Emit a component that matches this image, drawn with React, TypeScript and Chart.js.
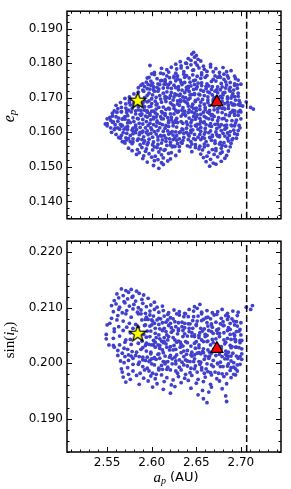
import React, { useEffect, useRef } from "react";
import { Chart, registerables } from "chart.js";
Chart.register(...registerables);

// ---------- data ----------
const xRange = [2.505, 2.745];
const topRange = [0.135, 0.195];
const bottomRange = [0.184, 0.222];
const xTickValues = [2.55, 2.6, 2.65, 2.7];
const topTickValues = [0.14, 0.15, 0.16, 0.17, 0.18, 0.19];
const bottomTickValues = [0.19, 0.2, 0.21, 0.22];
const stabilityLimit = 2.7065;
const starTop = [2.5843, 0.1691];
const triangleTop = [2.6731, 0.1687];
const starBottom = [2.5843, 0.2053];
const triangleBottom = [2.6731, 0.2026];

// (a_p, e_p) of the clones
const topPoints: number[][] = [
[2.647,.1831],[2.645,.1826],[2.650,.1822],[2.641,.1813],[2.648,.1817],[2.652,.1811],
[2.632,.1804],[2.638,.1800],[2.644,.1808],[2.649,.1801],[2.655,.1806],
[2.598,.1793],[2.627,.1797],[2.633,.1792],[2.639,.1799],[2.644,.1795],[2.651,.1794],[2.658,.1791],[2.666,.1796],
[2.611,.1785],[2.617,.1781],[2.622,.1788],[2.628,.1783],[2.633,.1786],[2.640,.1787],[2.647,.1780],[2.653,.1786],[2.659,.1782],[2.666,.1789],[2.672,.1784],[2.680,.1787],
[2.603,.1773],[2.610,.1771],[2.619,.1774],[2.627,.1771],[2.636,.1775],[2.646,.1779],[2.656,.1772],[2.662,.1776],[2.669,.1775],[2.676,.1773],[2.684,.1775],[2.689,.1778],
[2.600,.1769],[2.603,.1767],[2.613,.1769],[2.617,.1763],[2.625,.1762],[2.629,.1763],[2.636,.1768],[2.639,.1764],[2.646,.1766],[2.651,.1762],[2.656,.1766],[2.662,.1764],[2.671,.1763],[2.676,.1763],[2.681,.1768],[2.685,.1763],[2.693,.1762],
[2.595,.1757],[2.597,.1759],[2.606,.1755],[2.611,.1750],[2.615,.1752],[2.620,.1758],[2.625,.1758],[2.629,.1754],[2.632,.1751],[2.637,.1759],[2.642,.1757],[2.649,.1751],[2.655,.1756],[2.660,.1759],[2.669,.1753],[2.674,.1759],[2.677,.1759],[2.681,.1753],[2.686,.1757],[2.694,.1755],[2.697,.1751],
[2.590,.1740],[2.594,.1745],[2.599,.1748],[2.601,.1742],[2.607,.1740],[2.610,.1749],[2.615,.1747],[2.621,.1744],[2.627,.1749],[2.633,.1744],[2.637,.1744],[2.643,.1745],[2.647,.1749],[2.652,.1742],[2.656,.1743],[2.662,.1740],[2.667,.1747],[2.672,.1748],[2.678,.1741],[2.683,.1746],[2.688,.1744],[2.693,.1740],
[2.588,.1736],[2.592,.1732],[2.596,.1738],[2.599,.1736],[2.602,.1732],[2.606,.1730],[2.609,.1738],[2.614,.1739],[2.616,.1739],[2.619,.1738],[2.625,.1736],[2.630,.1732],[2.634,.1738],[2.639,.1730],[2.641,.1733],[2.644,.1734],[2.648,.1738],[2.651,.1732],[2.656,.1735],[2.661,.1733],[2.664,.1734],[2.668,.1732],[2.674,.1731],[2.679,.1731],[2.684,.1737],[2.688,.1730],[2.693,.1736],[2.696,.1737],[2.700,.1739],
[2.585,.1729],[2.590,.1722],[2.595,.1726],[2.598,.1725],[2.602,.1723],[2.608,.1725],[2.613,.1728],[2.618,.1729],[2.622,.1727],[2.627,.1729],[2.630,.1723],[2.634,.1722],[2.639,.1723],[2.641,.1728],[2.647,.1724],[2.650,.1726],[2.655,.1722],[2.661,.1726],[2.667,.1724],[2.673,.1723],[2.677,.1723],[2.683,.1728],[2.687,.1723],[2.692,.1722],[2.696,.1727],
[2.580,.1711],[2.585,.1716],[2.591,.1719],[2.597,.1713],[2.603,.1719],[2.607,.1719],[2.613,.1713],[2.617,.1717],[2.622,.1715],[2.626,.1711],[2.632,.1710],[2.637,.1715],[2.642,.1718],[2.648,.1712],[2.653,.1710],[2.658,.1719],[2.663,.1717],[2.665,.1714],[2.671,.1719],[2.674,.1714],[2.680,.1714],[2.682,.1715],[2.688,.1719],[2.691,.1712],[2.697,.1713],
[2.575,.1702],[2.584,.1703],[2.592,.1700],[2.595,.1707],[2.601,.1708],[2.605,.1701],[2.609,.1706],[2.615,.1704],[2.617,.1700],[2.621,.1706],[2.625,.1702],[2.628,.1708],[2.631,.1706],[2.635,.1702],[2.638,.1700],[2.643,.1708],[2.645,.1709],[2.648,.1709],[2.654,.1708],[2.659,.1706],[2.663,.1702],[2.668,.1708],[2.670,.1700],[2.673,.1703],[2.677,.1704],[2.680,.1708],[2.685,.1702],[2.690,.1705],[2.693,.1703],[2.697,.1704],
[2.570,.1698],[2.575,.1692],[2.577,.1695],[2.580,.1693],[2.584,.1694],[2.587,.1692],[2.592,.1691],[2.597,.1691],[2.600,.1697],[2.604,.1690],[2.610,.1696],[2.615,.1697],[2.620,.1699],[2.624,.1693],[2.629,.1691],[2.632,.1694],[2.636,.1691],[2.641,.1695],[2.643,.1699],[2.649,.1692],[2.652,.1696],[2.657,.1695],[2.663,.1693],[2.669,.1695],[2.675,.1698],[2.679,.1699],[2.685,.1697],[2.689,.1699],[2.694,.1693],[2.698,.1692],
[2.565,.1686],[2.571,.1682],[2.575,.1686],[2.580,.1684],[2.584,.1683],[2.590,.1683],[2.595,.1688],[2.600,.1683],[2.606,.1682],[2.611,.1687],[2.616,.1689],[2.621,.1685],[2.623,.1680],[2.629,.1682],[2.632,.1688],[2.638,.1688],[2.640,.1684],[2.646,.1681],[2.649,.1689],[2.655,.1687],[2.659,.1681],[2.663,.1686],[2.669,.1689],[2.671,.1683],[2.675,.1689],[2.679,.1689],[2.682,.1683],[2.685,.1687],[2.689,.1685],[2.692,.1681],[2.697,.1680],[2.699,.1685],
[2.560,.1678],[2.566,.1672],[2.571,.1670],[2.576,.1679],[2.580,.1677],[2.585,.1674],[2.588,.1679],[2.592,.1674],[2.597,.1674],[2.599,.1675],[2.605,.1679],[2.608,.1672],[2.613,.1673],[2.619,.1670],[2.625,.1677],[2.631,.1678],[2.635,.1671],[2.641,.1676],[2.645,.1674],[2.650,.1670],[2.654,.1676],[2.660,.1672],[2.665,.1678],[2.670,.1676],[2.676,.1672],[2.681,.1670],[2.686,.1678],[2.691,.1679],[2.693,.1679],[2.699,.1678],[2.702,.1676],
[2.558,.1662],[2.562,.1668],[2.566,.1660],[2.572,.1663],[2.574,.1664],[2.578,.1668],[2.582,.1662],[2.585,.1665],[2.588,.1663],[2.592,.1664],[2.595,.1662],[2.600,.1661],[2.602,.1661],[2.605,.1667],[2.611,.1660],[2.616,.1666],[2.620,.1667],[2.625,.1669],[2.627,.1663],[2.630,.1661],[2.634,.1664],[2.637,.1661],[2.642,.1665],[2.647,.1669],[2.650,.1662],[2.654,.1666],[2.660,.1665],[2.665,.1663],[2.670,.1665],[2.674,.1668],[2.679,.1669],[2.682,.1667],[2.686,.1669],[2.691,.1663],[2.693,.1662],[2.699,.1663],
[2.556,.1655],[2.561,.1658],[2.566,.1659],[2.572,.1657],[2.577,.1659],[2.582,.1653],[2.587,.1652],[2.589,.1653],[2.595,.1658],[2.598,.1654],[2.604,.1656],[2.606,.1652],[2.612,.1656],[2.615,.1654],[2.621,.1653],[2.625,.1653],[2.629,.1658],[2.635,.1653],[2.637,.1652],[2.641,.1657],[2.645,.1659],[2.648,.1655],[2.651,.1650],[2.655,.1652],[2.658,.1658],[2.663,.1658],[2.665,.1654],[2.668,.1651],[2.674,.1659],[2.679,.1657],[2.683,.1651],[2.688,.1656],[2.690,.1659],[2.693,.1653],[2.697,.1659],[2.700,.1659],
[2.553,.1643],[2.556,.1647],[2.560,.1645],[2.563,.1641],[2.568,.1640],[2.570,.1645],[2.573,.1648],[2.579,.1642],[2.584,.1640],[2.588,.1649],[2.593,.1647],[2.595,.1644],[2.598,.1649],[2.602,.1644],[2.605,.1644],[2.610,.1645],[2.615,.1649],[2.618,.1642],[2.622,.1643],[2.628,.1640],[2.633,.1647],[2.638,.1648],[2.642,.1641],[2.647,.1646],[2.650,.1644],[2.654,.1640],[2.659,.1646],[2.661,.1642],[2.667,.1648],[2.670,.1646],[2.675,.1642],[2.681,.1640],[2.687,.1648],[2.693,.1649],[2.697,.1649],
[2.550,.1639],[2.554,.1635],[2.557,.1630],[2.562,.1632],[2.567,.1638],[2.570,.1638],[2.574,.1634],[2.580,.1631],[2.585,.1639],[2.590,.1637],[2.594,.1631],[2.599,.1636],[2.602,.1639],[2.606,.1633],[2.611,.1639],[2.613,.1639],[2.619,.1633],[2.622,.1637],[2.627,.1635],[2.633,.1631],[2.639,.1630],[2.645,.1635],[2.649,.1638],[2.655,.1632],[2.659,.1630],[2.664,.1639],[2.668,.1637],[2.674,.1634],[2.679,.1639],[2.684,.1634],[2.690,.1634],[2.695,.1635],[2.700,.1639],
[2.548,.1624],[2.550,.1625],[2.556,.1629],[2.559,.1622],[2.565,.1623],[2.567,.1620],[2.573,.1627],[2.576,.1628],[2.582,.1621],[2.586,.1626],[2.590,.1624],[2.596,.1620],[2.598,.1626],[2.602,.1622],[2.606,.1628],[2.609,.1626],[2.612,.1622],[2.616,.1620],[2.619,.1628],[2.624,.1629],[2.626,.1629],[2.629,.1628],[2.635,.1626],[2.640,.1622],[2.644,.1628],[2.649,.1620],[2.651,.1623],[2.654,.1624],[2.658,.1628],[2.661,.1622],[2.666,.1625],[2.671,.1623],[2.674,.1624],[2.678,.1622],[2.684,.1621],[2.689,.1621],[2.694,.1627],[2.698,.1620],
[2.550,.1619],[2.554,.1613],[2.559,.1612],[2.562,.1613],[2.566,.1618],[2.571,.1614],[2.573,.1616],[2.579,.1612],[2.582,.1616],[2.587,.1614],[2.593,.1613],[2.599,.1613],[2.605,.1618],[2.609,.1613],[2.615,.1612],[2.619,.1617],[2.624,.1619],[2.628,.1615],[2.634,.1610],[2.639,.1612],[2.644,.1618],[2.650,.1618],[2.655,.1614],[2.660,.1611],[2.665,.1619],[2.667,.1617],[2.673,.1611],[2.676,.1616],[2.682,.1619],[2.684,.1613],[2.690,.1619],[2.693,.1619],[2.699,.1613],
[2.555,.1600],[2.558,.1608],[2.564,.1609],[2.569,.1609],[2.573,.1608],[2.578,.1606],[2.580,.1602],[2.583,.1608],[2.587,.1600],[2.590,.1603],[2.595,.1604],[2.600,.1608],[2.603,.1602],[2.607,.1605],[2.613,.1603],[2.618,.1604],[2.623,.1602],[2.627,.1601],[2.632,.1601],[2.635,.1607],[2.639,.1600],[2.644,.1606],[2.646,.1607],[2.652,.1609],[2.655,.1603],[2.660,.1601],[2.666,.1604],[2.672,.1601],[2.678,.1605],[2.682,.1609],[2.688,.1602],[2.692,.1606],[2.697,.1605],
[2.560,.1594],[2.566,.1591],[2.568,.1599],[2.572,.1597],[2.576,.1591],[2.579,.1596],[2.582,.1599],[2.586,.1593],[2.589,.1599],[2.594,.1599],[2.596,.1593],[2.599,.1597],[2.605,.1595],[2.610,.1591],[2.614,.1590],[2.619,.1595],[2.621,.1598],[2.624,.1592],[2.628,.1590],[2.631,.1599],[2.636,.1597],[2.641,.1594],[2.644,.1599],[2.648,.1594],[2.654,.1594],[2.659,.1595],[2.664,.1599],[2.668,.1592],[2.673,.1593],[2.676,.1590],[2.680,.1597],[2.685,.1598],[2.687,.1591],[2.693,.1596],[2.696,.1594],
[2.563,.1585],[2.565,.1583],[2.571,.1584],[2.574,.1582],[2.579,.1581],[2.585,.1581],[2.591,.1587],[2.597,.1580],[2.601,.1586],[2.607,.1587],[2.611,.1589],[2.616,.1583],[2.620,.1581],[2.626,.1584],[2.631,.1581],[2.636,.1585],[2.642,.1589],[2.647,.1582],[2.652,.1586],[2.657,.1585],[2.659,.1583],[2.665,.1585],[2.668,.1588],[2.674,.1589],[2.676,.1587],[2.682,.1589],[2.685,.1583],[2.691,.1582],[2.695,.1583],
[2.567,.1573],[2.569,.1573],[2.572,.1578],[2.576,.1573],[2.579,.1572],[2.584,.1577],[2.589,.1579],[2.592,.1575],[2.596,.1570],[2.602,.1572],[2.607,.1578],[2.612,.1578],[2.616,.1574],[2.621,.1571],[2.624,.1579],[2.628,.1577],[2.633,.1571],[2.635,.1576],[2.641,.1579],[2.644,.1573],[2.649,.1579],[2.655,.1579],[2.661,.1573],[2.667,.1577],[2.671,.1575],[2.677,.1571],[2.681,.1570],[2.686,.1575],[2.690,.1578],
[2.570,.1569],[2.578,.1567],[2.587,.1564],[2.591,.1569],[2.595,.1564],[2.601,.1564],[2.607,.1565],[2.611,.1569],[2.617,.1562],[2.621,.1563],[2.624,.1560],[2.629,.1567],[2.634,.1568],[2.640,.1561],[2.645,.1566],[2.649,.1564],[2.654,.1560],[2.659,.1566],[2.663,.1562],[2.671,.1568],[2.676,.1566],[2.679,.1562],[2.683,.1560],[2.689,.1568],
[2.574,.1554],[2.584,.1550],[2.589,.1556],[2.594,.1552],[2.603,.1558],[2.606,.1556],[2.610,.1552],[2.615,.1550],[2.623,.1558],[2.626,.1559],[2.631,.1559],[2.643,.1558],[2.649,.1556],[2.653,.1552],[2.659,.1558],[2.668,.1550],[2.672,.1553],[2.678,.1554],[2.688,.1558],
[2.578,.1547],[2.586,.1541],[2.593,.1545],[2.601,.1549],[2.608,.1543],[2.614,.1548],[2.622,.1541],[2.631,.1546],[2.645,.1544],[2.657,.1549],[2.664,.1542],[2.672,.1547],[2.679,.1543],[2.686,.1546],
[2.583,.1536],[2.591,.1532],[2.597,.1538],[2.604,.1531],[2.611,.1535],[2.619,.1539],[2.627,.1533],[2.655,.1537],[2.662,.1531],[2.670,.1536],[2.677,.1539],[2.684,.1533],
[2.590,.1524],[2.600,.1528],[2.607,.1521],[2.613,.1526],[2.621,.1523],[2.658,.1527],[2.666,.1522],[2.674,.1529],[2.682,.1525],
[2.595,.1514],[2.603,.1518],[2.611,.1512],[2.618,.1517],[2.661,.1515],[2.669,.1511],[2.678,.1516],
[2.602,.1504],[2.613,.1507],[2.665,.1502],[2.672,.1508],[2.608,.1496],
[2.711,.1672],[2.714,.1667],[2.706,.1688],
];

// (a_p, sin i_p) of the clones
const bottomPoints: number[][] = [
[2.566,.2134],[2.571,.2131],[2.577,.2133],[2.583,.2130],
[2.561,.2125],[2.568,.2122],[2.574,.2128],[2.579,.2121],[2.586,.2126],[2.591,.2123],
[2.558,.2113],[2.563,.2118],[2.569,.2111],[2.573,.2116],[2.578,.2119],[2.582,.2112],[2.589,.2115],[2.596,.2117],[2.603,.2110],
[2.555,.2104],[2.560,.2107],[2.564,.2101],[2.570,.2109],[2.575,.2103],[2.580,.2106],[2.585,.2100],[2.590,.2108],[2.594,.2102],[2.599,.2105],[2.606,.2101],[2.612,.2103],[2.648,.2102],[2.654,.2106],[2.706,.2101],[2.711,.2097],[2.713,.2104],
[2.557,.2093],[2.563,.2097],[2.567,.2091],[2.572,.2095],[2.579,.2098],[2.584,.2092],[2.588,.2096],[2.593,.2090],[2.598,.2094],[2.603,.2097],[2.608,.2092],[2.613,.2095],[2.619,.2091],[2.625,.2096],[2.631,.2093],[2.637,.2090],[2.642,.2097],[2.647,.2094],[2.651,.2099],[2.656,.2092],[2.662,.2095],[2.668,.2091],[2.674,.2093],[2.679,.2097],[2.685,.2090],[2.691,.2094],[2.697,.2092],
[2.555,.2081],[2.562,.2086],[2.571,.2089],[2.577,.2083],[2.585,.2089],[2.588,.2089],[2.594,.2083],[2.598,.2087],[2.602,.2085],[2.608,.2081],[2.610,.2080],[2.614,.2085],[2.618,.2088],[2.621,.2082],[2.624,.2080],[2.628,.2089],[2.631,.2087],[2.636,.2084],[2.638,.2089],[2.641,.2084],[2.647,.2084],[2.652,.2085],[2.656,.2089],[2.661,.2082],[2.663,.2083],[2.666,.2080],[2.670,.2087],[2.673,.2088],[2.678,.2081],[2.683,.2086],[2.686,.2084],[2.690,.2080],[2.696,.2086],
[2.553,.2072],[2.561,.2078],[2.568,.2076],[2.575,.2072],[2.582,.2070],[2.589,.2078],[2.593,.2079],[2.596,.2079],[2.600,.2078],[2.601,.2076],[2.603,.2072],[2.606,.2078],[2.608,.2070],[2.612,.2073],[2.616,.2074],[2.618,.2078],[2.621,.2072],[2.626,.2075],[2.630,.2073],[2.634,.2074],[2.637,.2072],[2.641,.2071],[2.643,.2071],[2.646,.2077],[2.650,.2070],[2.651,.2076],[2.656,.2077],[2.658,.2079],[2.662,.2073],[2.667,.2071],[2.672,.2074],[2.677,.2071],[2.680,.2075],[2.685,.2079],[2.688,.2072],[2.692,.2076],[2.695,.2075],[2.700,.2073],
[2.550,.2069],[2.558,.2062],[2.563,.2066],[2.572,.2065],[2.579,.2063],[2.585,.2065],[2.592,.2068],[2.593,.2069],[2.598,.2067],[2.600,.2069],[2.604,.2063],[2.609,.2062],[2.614,.2063],[2.619,.2068],[2.622,.2064],[2.627,.2066],[2.630,.2062],[2.634,.2066],[2.637,.2064],[2.642,.2063],[2.646,.2063],[2.650,.2068],[2.655,.2063],[2.659,.2062],[2.663,.2067],[2.667,.2069],[2.668,.2065],[2.673,.2060],[2.675,.2062],[2.680,.2068],[2.681,.2068],[2.686,.2064],[2.688,.2061],[2.693,.2069],[2.696,.2067],[2.699,.2061],
[2.549,.2052],[2.558,.2057],[2.568,.2059],[2.576,.2055],[2.586,.2050],[2.591,.2052],[2.595,.2058],[2.599,.2058],[2.604,.2054],[2.608,.2051],[2.612,.2059],[2.616,.2057],[2.617,.2051],[2.622,.2056],[2.624,.2059],[2.629,.2053],[2.630,.2059],[2.635,.2059],[2.637,.2053],[2.642,.2057],[2.645,.2055],[2.648,.2051],[2.653,.2050],[2.654,.2055],[2.657,.2058],[2.660,.2052],[2.662,.2050],[2.664,.2059],[2.667,.2057],[2.669,.2054],[2.673,.2059],[2.674,.2054],[2.676,.2054],[2.681,.2055],[2.685,.2059],[2.688,.2052],[2.692,.2053],[2.693,.2050],[2.695,.2057],[2.698,.2058],[2.700,.2051],
[2.549,.2044],[2.557,.2045],[2.564,.2049],[2.571,.2042],[2.576,.2043],[2.589,.2040],[2.594,.2047],[2.598,.2048],[2.602,.2041],[2.605,.2046],[2.609,.2044],[2.611,.2040],[2.614,.2046],[2.618,.2042],[2.619,.2048],[2.624,.2046],[2.626,.2042],[2.630,.2040],[2.635,.2048],[2.640,.2049],[2.645,.2049],[2.648,.2048],[2.653,.2046],[2.656,.2042],[2.660,.2048],[2.663,.2040],[2.668,.2043],[2.672,.2044],[2.676,.2048],[2.681,.2042],[2.685,.2045],[2.689,.2043],[2.693,.2044],[2.694,.2042],[2.699,.2041],[2.701,.2041],
[2.552,.2033],[2.557,.2032],[2.564,.2033],[2.570,.2038],[2.577,.2034],[2.585,.2036],[2.593,.2032],[2.594,.2036],[2.597,.2034],[2.600,.2033],[2.602,.2033],[2.604,.2038],[2.607,.2033],[2.609,.2032],[2.613,.2037],[2.614,.2039],[2.616,.2035],[2.621,.2030],[2.625,.2032],[2.628,.2038],[2.632,.2038],[2.633,.2034],[2.635,.2031],[2.638,.2039],[2.640,.2037],[2.644,.2031],[2.648,.2036],[2.650,.2039],[2.653,.2033],[2.658,.2039],[2.662,.2039],[2.666,.2033],[2.669,.2037],[2.673,.2035],[2.675,.2031],[2.678,.2030],[2.682,.2035],[2.683,.2038],[2.688,.2032],[2.690,.2030],[2.694,.2039],[2.699,.2037],
[2.558,.2029],[2.562,.2023],[2.569,.2027],[2.573,.2025],[2.578,.2021],[2.583,.2020],[2.588,.2025],[2.590,.2028],[2.594,.2022],[2.599,.2020],[2.604,.2029],[2.609,.2027],[2.612,.2024],[2.617,.2029],[2.620,.2024],[2.624,.2024],[2.627,.2025],[2.632,.2029],[2.636,.2022],[2.640,.2023],[2.645,.2020],[2.649,.2027],[2.653,.2028],[2.657,.2021],[2.658,.2026],[2.663,.2024],[2.665,.2020],[2.670,.2026],[2.671,.2022],[2.676,.2028],[2.678,.2026],[2.683,.2022],[2.686,.2020],[2.689,.2028],[2.694,.2029],[2.695,.2029],[2.698,.2028],[2.701,.2026],
[2.562,.2014],[2.567,.2018],[2.570,.2012],[2.574,.2015],[2.577,.2013],[2.582,.2014],[2.586,.2012],[2.590,.2011],[2.595,.2011],[2.599,.2017],[2.603,.2010],[2.607,.2016],[2.608,.2017],[2.613,.2019],[2.615,.2013],[2.620,.2011],[2.621,.2014],[2.626,.2011],[2.628,.2015],[2.633,.2019],[2.636,.2012],[2.639,.2016],[2.644,.2015],[2.645,.2013],[2.648,.2015],[2.651,.2018],[2.653,.2019],[2.655,.2017],[2.658,.2019],[2.660,.2013],[2.664,.2012],[2.665,.2013],[2.667,.2018],[2.672,.2014],[2.676,.2016],[2.679,.2012],[2.683,.2016],[2.684,.2014],[2.686,.2013],[2.689,.2013],[2.691,.2018],[2.695,.2013],[2.699,.2012],[2.701,.2017],
[2.565,.2004],[2.569,.2001],[2.574,.2005],[2.579,.2009],[2.586,.2002],[2.590,.2006],[2.593,.2005],[2.597,.2003],[2.598,.2005],[2.600,.2008],[2.603,.2009],[2.605,.2007],[2.609,.2009],[2.613,.2003],[2.615,.2002],[2.618,.2003],[2.623,.2008],[2.627,.2004],[2.631,.2006],[2.634,.2002],[2.638,.2006],[2.640,.2004],[2.643,.2003],[2.647,.2003],[2.648,.2008],[2.653,.2003],[2.655,.2002],[2.659,.2007],[2.664,.2009],[2.669,.2005],[2.674,.2000],[2.677,.2002],[2.682,.2008],[2.685,.2008],[2.689,.2004],[2.692,.2001],[2.697,.2009],[2.701,.2007],
[2.566,.1990],[2.573,.1992],[2.579,.1998],[2.585,.1998],[2.590,.1994],[2.595,.1991],[2.600,.1999],[2.603,.1997],[2.608,.1991],[2.611,.1996],[2.615,.1999],[2.618,.1993],[2.623,.1999],[2.627,.1999],[2.631,.1993],[2.636,.1997],[2.640,.1995],[2.644,.1991],[2.648,.1990],[2.649,.1995],[2.654,.1998],[2.656,.1992],[2.661,.1990],[2.662,.1999],[2.667,.1997],[2.669,.1994],[2.674,.1999],[2.677,.1994],[2.680,.1994],[2.685,.1995],[2.686,.1999],[2.689,.1992],[2.692,.1993],[2.694,.1990],[2.696,.1997],[2.699,.1998],
[2.567,.1984],[2.574,.1980],[2.579,.1986],[2.587,.1982],[2.592,.1988],[2.597,.1986],[2.601,.1982],[2.605,.1980],[2.608,.1988],[2.612,.1989],[2.617,.1989],[2.621,.1988],[2.627,.1986],[2.629,.1982],[2.633,.1988],[2.638,.1980],[2.643,.1983],[2.651,.1984],[2.656,.1988],[2.659,.1982],[2.663,.1985],[2.666,.1983],[2.671,.1984],[2.675,.1982],[2.679,.1981],[2.684,.1981],[2.688,.1987],[2.692,.1980],[2.696,.1986],
[2.568,.1975],[2.576,.1971],[2.583,.1978],[2.591,.1973],[2.599,.1977],[2.604,.1972],[2.611,.1979],[2.617,.1974],[2.624,.1970],[2.630,.1976],[2.637,.1973],[2.645,.1978],[2.652,.1971],[2.660,.1975],[2.667,.1979],[2.673,.1972],[2.681,.1976],[2.689,.1974],[2.694,.1979],
[2.571,.1966],[2.586,.1962],[2.596,.1968],[2.606,.1963],[2.614,.1967],[2.622,.1961],[2.633,.1965],[2.641,.1969],[2.650,.1964],[2.658,.1967],[2.666,.1962],[2.676,.1968],[2.684,.1963],
[2.601,.1957],[2.613,.1953],[2.626,.1958],[2.644,.1955],[2.657,.1951],[2.667,.1957],[2.679,.1954],
[2.621,.1946],[2.652,.1943],[2.664,.1948],[2.683,.1941],
[2.658,.1936],[2.684,.1931],[2.662,.1929],
];

// ---------- styling ----------
const POINT_COLOR = "rgb(64,64,204)";
const POINT_RADIUS = 1.9;
const TICK_FONT = { family: "DejaVu Sans", size: 12 };

function makeStarImage(R: number, r: number): HTMLCanvasElement {
  const size = Math.ceil(2 * R + 4);
  const c = document.createElement("canvas");
  c.width = size;
  c.height = size;
  const ctx = c.getContext("2d")!;
  const cx = size / 2;
  const cy = size / 2;
  ctx.beginPath();
  for (let i = 0; i < 10; i++) {
    const ang = -Math.PI / 2 + (i * Math.PI) / 5;
    const rad = i % 2 === 0 ? R : r;
    const px = cx + Math.cos(ang) * rad;
    const py = cy + Math.sin(ang) * rad;
    if (i === 0) ctx.moveTo(px, py);
    else ctx.lineTo(px, py);
  }
  ctx.closePath();
  ctx.fillStyle = "#ffff00";
  ctx.fill();
  ctx.lineWidth = 1.2;
  ctx.strokeStyle = "#000";
  ctx.lineJoin = "miter";
  ctx.stroke();
  return c;
}

type Run = { t: string; font: string; dy?: number };

function drawRuns(ctx: CanvasRenderingContext2D, runs: Run[], cx: number, cy: number, rotate: boolean) {
  ctx.save();
  ctx.translate(cx, cy);
  if (rotate) ctx.rotate(-Math.PI / 2);
  let total = 0;
  const widths = runs.map((r) => {
    ctx.font = r.font;
    const w = ctx.measureText(r.t).width;
    total += w;
    return w;
  });
  let x = -total / 2;
  ctx.textBaseline = "middle";
  ctx.textAlign = "left";
  ctx.fillStyle = "#000";
  runs.forEach((r, i) => {
    ctx.font = r.font;
    ctx.fillText(r.t, x, r.dy || 0);
    x += widths[i];
  });
  ctx.restore();
}

type PanelCfg = {
  yMajor: number[];
  yMinorStep: number;
  titles: { runs: Run[]; x: number; y: number; rotate: boolean }[];
};

function minorValues(min: number, max: number, step: number, majors: number[]) {
  const out: number[] = [];
  const k0 = Math.ceil(min / step - 1e-6);
  for (let k = k0; k * step <= max + 1e-9; k++) {
    const v = k * step;
    if (!majors.some((m) => Math.abs(m - v) < step / 10)) out.push(v);
  }
  return out;
}

function framePlugin(cfg: PanelCfg) {
  return {
    id: "frameTicks",
    afterDatasetsDraw(chart: any) {
      const ctx: CanvasRenderingContext2D = chart.ctx;
      const { left, right, top, bottom } = chart.chartArea;
      const xs = chart.scales.x;
      const ys = chart.scales.y;
      ctx.save();
      ctx.strokeStyle = "#000";
      ctx.lineWidth = 1;
      const majorLen = 5;
      const minorLen = 2.5;
      ctx.beginPath();
      const xMinor = minorValues(xs.min, xs.max, 0.01, xTickValues);
      xTickValues.forEach((v) => {
        const p = Math.round(xs.getPixelForValue(v)) + 0.5;
        ctx.moveTo(p, bottom); ctx.lineTo(p, bottom - majorLen);
        ctx.moveTo(p, top); ctx.lineTo(p, top + majorLen);
      });
      xMinor.forEach((v) => {
        const p = Math.round(xs.getPixelForValue(v)) + 0.5;
        ctx.moveTo(p, bottom); ctx.lineTo(p, bottom - minorLen);
        ctx.moveTo(p, top); ctx.lineTo(p, top + minorLen);
      });
      const yMinor = minorValues(ys.min, ys.max, cfg.yMinorStep, cfg.yMajor);
      cfg.yMajor.forEach((v) => {
        const p = Math.round(ys.getPixelForValue(v)) + 0.5;
        ctx.moveTo(left, p); ctx.lineTo(left + majorLen, p);
        ctx.moveTo(right, p); ctx.lineTo(right - majorLen, p);
      });
      yMinor.forEach((v) => {
        const p = Math.round(ys.getPixelForValue(v)) + 0.5;
        ctx.moveTo(left, p); ctx.lineTo(left + minorLen, p);
        ctx.moveTo(right, p); ctx.lineTo(right - minorLen, p);
      });
      ctx.stroke();
      ctx.lineWidth = 1.5;
      ctx.strokeRect(left, top, right - left, bottom - top);
      ctx.restore();
      cfg.titles.forEach((t) => drawRuns(ctx, t.runs, t.x, t.y, t.rotate));
    },
  };
}

function buildConfig(
  points: number[][],
  yRange: number[],
  yTicks: number[],
  star: number[],
  tri: number[],
  starImg: HTMLCanvasElement,
  showXLabels: boolean,
  xAxisHeight: number,
  cfg: PanelCfg
): any {
  return {
    type: "scatter",
    data: {
      datasets: [
        {
          data: [{ x: star[0], y: star[1] }],
          pointStyle: starImg,
          pointRadius: 9,
          order: 0,
        },
        {
          data: [{ x: tri[0], y: tri[1] }],
          pointStyle: "triangle",
          pointRadius: 7,
          pointBackgroundColor: "#ff0000",
          backgroundColor: "#ff0000",
          pointBorderColor: "#000",
          borderColor: "#000",
          pointBorderWidth: 1.2,
          order: 1,
        },
        {
          data: [
            { x: stabilityLimit, y: yRange[0] },
            { x: stabilityLimit, y: yRange[1] },
          ],
          showLine: true,
          borderColor: "#000",
          borderWidth: 1.5,
          borderDash: [7, 3],
          pointRadius: 0,
          order: 2,
        },
        {
          data: points.map(([x, y]) => ({ x, y })),
          pointRadius: POINT_RADIUS,
          pointBackgroundColor: POINT_COLOR,
          backgroundColor: POINT_COLOR,
          pointBorderWidth: 0,
          borderWidth: 0,
          order: 3,
        },
      ],
    },
    options: {
      animation: false,
      responsive: false,
      events: [],
      layout: { padding: { top: 7, right: 8, left: 0, bottom: 0 } },
      plugins: { legend: { display: false }, tooltip: { enabled: false } },
      scales: {
        x: {
          type: "linear",
          min: xRange[0],
          max: xRange[1],
          grid: { display: false, drawTicks: false },
          border: { display: false },
          ticks: {
            display: showXLabels,
            padding: 4,
            color: "#000",
            font: TICK_FONT,
            maxRotation: 0,
            callback: (v: any) => Number(v).toFixed(2),
          },
          afterBuildTicks: (s: any) => {
            s.ticks = xTickValues.map((v) => ({ value: v }));
          },
          afterFit: (s: any) => {
            s.height = xAxisHeight;
          },
        },
        y: {
          type: "linear",
          min: yRange[0],
          max: yRange[1],
          grid: { display: false, drawTicks: false },
          border: { display: false },
          ticks: {
            padding: 4,
            color: "#000",
            font: TICK_FONT,
            callback: (v: any) => Number(v).toFixed(3),
          },
          afterBuildTicks: (s: any) => {
            s.ticks = yTicks.map((v) => ({ value: v }));
          },
          afterFit: (s: any) => {
            s.width = 67;
          },
        },
      },
    },
    plugins: [framePlugin(cfg)],
  };
}

const SERIF_I = (px: number) => `italic ${px}px "Liberation Serif"`;
const SERIF = (px: number) => `${px}px "Liberation Serif"`;

export default function App() {
  const topRef = useRef<HTMLCanvasElement>(null);
  const botRef = useRef<HTMLCanvasElement>(null);

  useEffect(() => {
    const starImg = makeStarImage(8.8, 3.6);
    const topChart = new Chart(
      topRef.current!,
      buildConfig(topPoints, topRange, topTickValues, starTop, triangleTop, starImg, false, 8, {
        yMajor: topTickValues,
        yMinorStep: 0.002,
        titles: [
          {
            runs: [
              { t: "e", font: SERIF_I(16) },
              { t: "p", font: SERIF_I(11), dy: 3 },
            ],
            x: 10,
            y: 116,
            rotate: true,
          },
        ],
      })
    );
    const botChart = new Chart(
      botRef.current!,
      buildConfig(bottomPoints, bottomRange, bottomTickValues, starBottom, triangleBottom, starImg, true, 37, {
        yMajor: bottomTickValues,
        yMinorStep: 0.002,
        titles: [
          {
            runs: [
              { t: "sin(", font: SERIF(15) },
              { t: "i", font: SERIF_I(15) },
              { t: "p", font: SERIF_I(10), dy: 3 },
              { t: ")", font: SERIF(15) },
            ],
            x: 10,
            y: 110,
            rotate: true,
          },
          {
            runs: [
              { t: "a", font: SERIF_I(15) },
              { t: "p", font: SERIF_I(10), dy: 3 },
              { t: " (AU)", font: '13px "DejaVu Sans"' },
            ],
            x: 176,
            y: 248,
            rotate: false,
          },
        ],
      })
    );
    return () => {
      topChart.destroy();
      botChart.destroy();
    };
  }, []);

  return (
    <div style={{ position: "absolute", left: 0, top: 0, width: 291, height: 489, background: "#fff" }}>
      <canvas ref={topRef} width={291} height={230} style={{ position: "absolute", left: 0, top: 0, display: "block" }} />
      <canvas ref={botRef} width={291} height={259} style={{ position: "absolute", left: 0, top: 230, display: "block" }} />
    </div>
  );
}
